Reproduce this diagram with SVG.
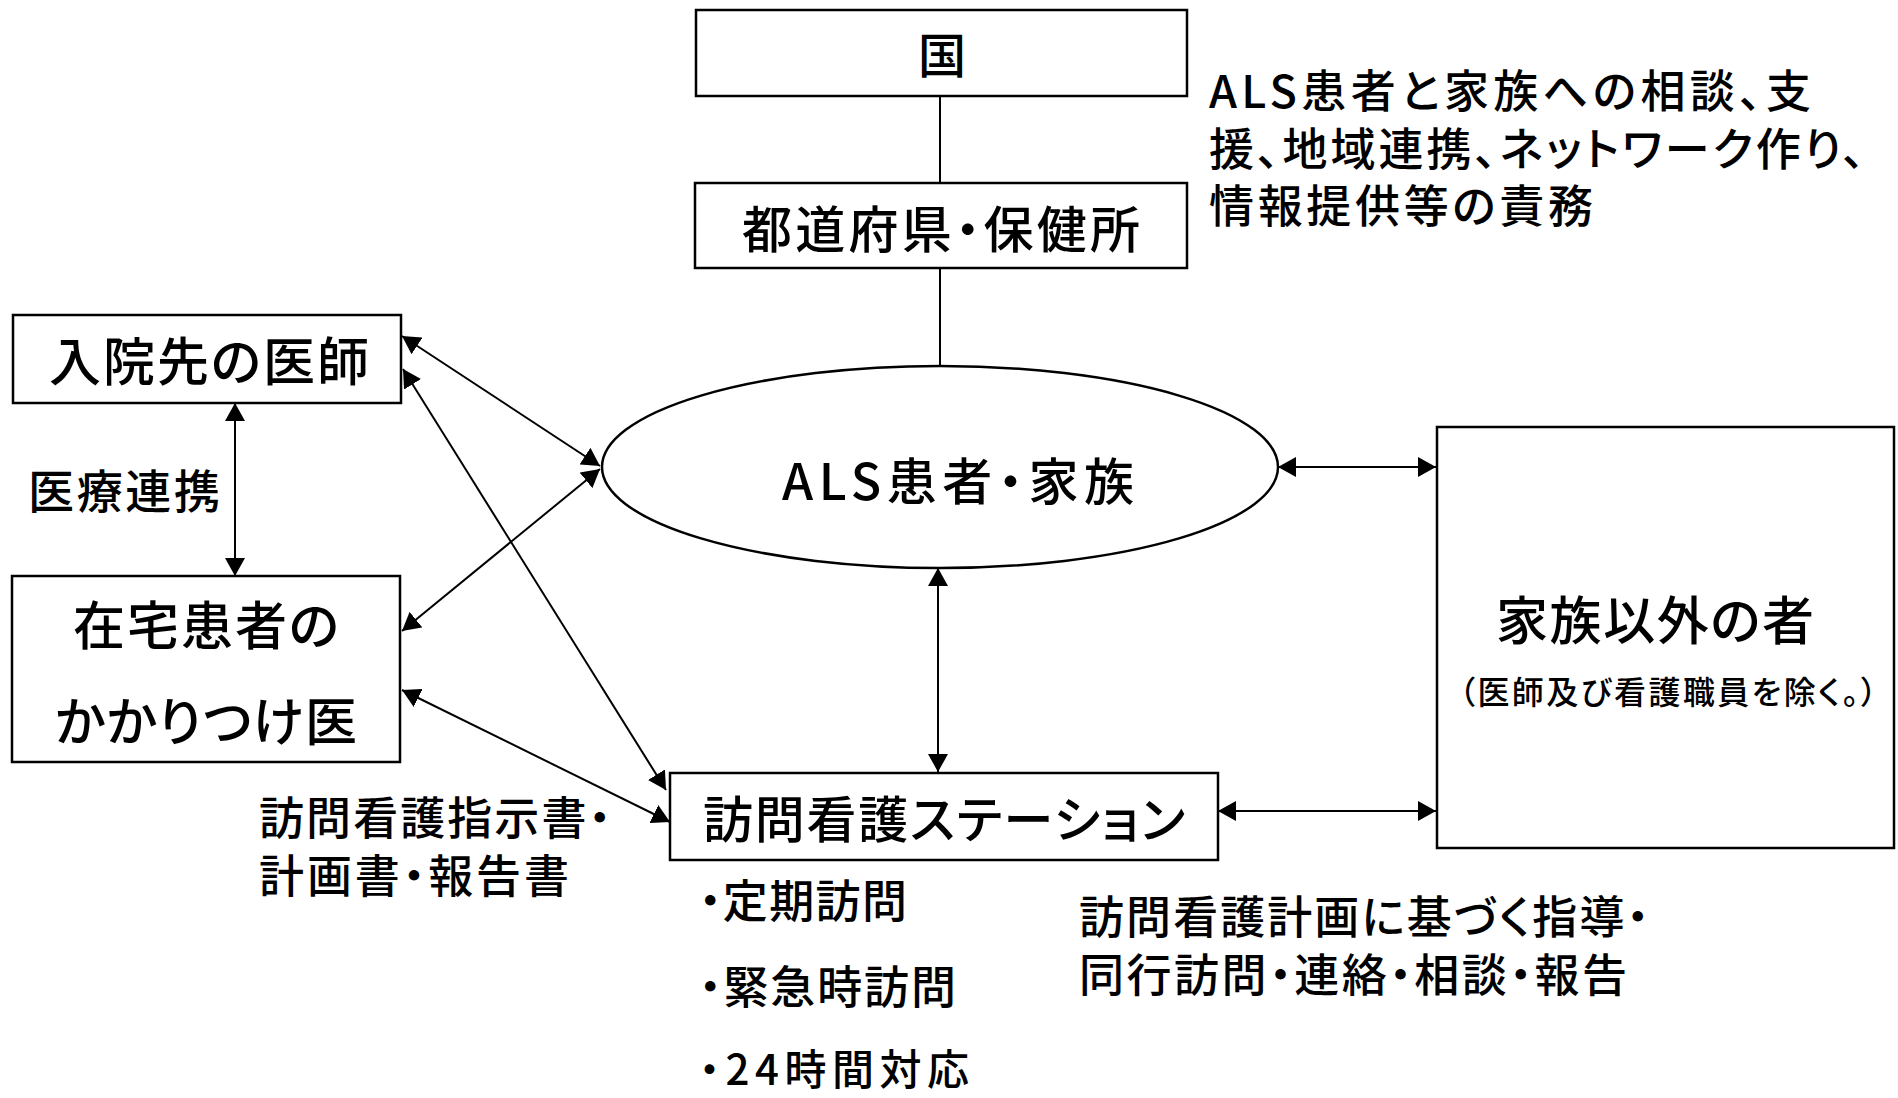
<svg xmlns="http://www.w3.org/2000/svg" width="1898" height="1098" viewBox="0 0 1898 1098">
<style>
  text { font-family: "Noto Sans CJK JP", "Noto Sans CJK SC", sans-serif; font-weight: 500; fill: #000; font-feature-settings: "palt"; dominant-baseline: central; }
  .box { fill: #fff; stroke: #000; stroke-width: 2.5; }
  .line { fill: none; stroke: #000; stroke-width: 2; }
  .arr { fill: none; stroke: #000; stroke-width: 2; marker-start: url(#ah); marker-end: url(#ah); }
  .c { text-anchor: middle; }
  .s { text-anchor: start; }
</style>
<defs>
  <marker id="ah" viewBox="0 0 18 20" refX="18" refY="10" markerWidth="18" markerHeight="20" markerUnits="userSpaceOnUse" orient="auto-start-reverse">
    <path d="M0,0 L18,10 L0,20 Z" fill="#000"/>
  </marker>
</defs>
<rect width="1898" height="1098" fill="#fff"/>

<g id="connectors">
  <line class="line" x1="940" y1="96" x2="940" y2="183"/>
  <line class="line" x1="940" y1="268" x2="940" y2="366"/>
  <line class="arr" x1="402" y1="336" x2="600" y2="466"/>
  <line class="arr" x1="403" y1="369" x2="666" y2="790"/>
  <line class="arr" x1="600" y1="469" x2="402" y2="631"/>
  <line class="arr" x1="402" y1="690" x2="670" y2="822"/>
  <line class="arr" x1="235" y1="403" x2="235" y2="576"/>
  <line class="arr" x1="938" y1="568" x2="938" y2="772"/>
  <line class="arr" x1="1278" y1="467" x2="1436" y2="467"/>
  <line class="arr" x1="1218" y1="811" x2="1436" y2="811"/>
</g>

<g id="kuni">
  <rect class="box" x="696" y="10" width="491" height="86"/>
  <text class="c" x="942" y="52" font-size="48">国</text>
</g>

<g id="todofuken">
  <rect class="box" x="695" y="183" width="492" height="85"/>
  <text class="c" x="941" y="226" font-size="50" textLength="398">都道府県・保健所</text>
</g>

<g id="responsibility">
  <text class="s" font-size="45"><tspan x="1209" y="88" textLength="602">ALS患者と家族への相談、支</tspan><tspan x="1209" y="146" textLength="656">援、地域連携、ネットワーク作り、</tspan><tspan x="1209" y="203" textLength="384">情報提供等の責務</tspan></text>
</g>

<g id="nyuin">
  <rect class="box" x="13" y="315" width="388" height="88"/>
  <text class="c" x="209" y="358" font-size="52" textLength="320">入院先の医師</text>
</g>

<g id="iryo-renkei">
  <text class="c" x="124" y="488" font-size="46" textLength="192">医療連携</text>
</g>

<g id="zaitaku">
  <rect class="box" x="12" y="576" width="388" height="186"/>
  <text class="c" x="206" y="622" font-size="52" textLength="266">在宅患者の</text>
  <text class="c" x="206" y="718" font-size="52" textLength="302">かかりつけ医</text>
</g>

<g id="als">
  <ellipse class="box" cx="940" cy="467" rx="338" ry="101" stroke-width="2"/>
  <text class="c" x="958" y="478" font-size="50" textLength="352">ALS患者・家族</text>
</g>

<g id="kazoku-igai">
  <rect class="box" x="1437" y="427" width="457" height="421"/>
  <text class="c" x="1655" y="617" font-size="52" textLength="318">家族以外の者</text>
  <text class="c" x="1668" y="690" font-size="32" textLength="418">（医師及び看護職員を除く。）</text>
</g>

<g id="station">
  <rect class="box" x="670" y="773" width="548" height="87"/>
  <text class="c" x="944" y="816" font-size="50" textLength="482">訪問看護ステーション</text>
</g>

<g id="shijisho">
  <text class="s" font-size="45"><tspan x="259" y="815" textLength="352">訪問看護指示書・</tspan><tspan x="259" y="873" textLength="310">計画書・報告書</tspan></text>
</g>

<g id="station-services">
  <text class="s" x="699" y="898" font-size="45" textLength="208">・定期訪問</text>
  <text class="s" x="699" y="984" font-size="45" textLength="257">・緊急時訪問</text>
  <text class="s" x="699" y="1066" font-size="42" textLength="270">・24時間対応</text>
</g>

<g id="shido">
  <text class="s" font-size="45"><tspan x="1079" y="914" textLength="570">訪問看護計画に基づく指導・</tspan><tspan x="1079" y="972" textLength="548">同行訪問・連絡・相談・報告</tspan></text>
</g>
</svg>
